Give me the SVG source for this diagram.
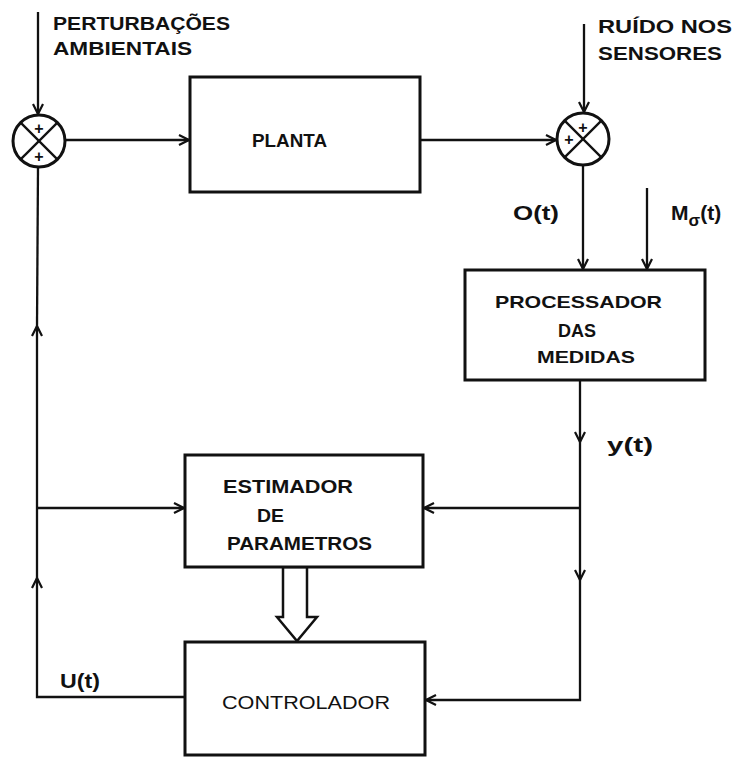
<svg xmlns="http://www.w3.org/2000/svg" width="738" height="758" viewBox="0 0 738 758">
<defs>
<style>
.box{fill:#fff;stroke:#111;stroke-width:3}
.ln{fill:none;stroke:#111;stroke-width:2.3}
.sum{fill:#fff;stroke:#111;stroke-width:3}
.t{font-family:"Liberation Sans",Arial,sans-serif;font-weight:bold;fill:#111}
.n{font-family:"Liberation Sans",Arial,sans-serif;font-weight:normal;fill:#111}
.sg{font-family:"Liberation Sans",Arial,sans-serif;font-weight:bold;fill:#111;font-size:16px;text-anchor:middle}
</style>
<marker id="a" viewBox="0 0 12 12" refX="11" refY="6" markerWidth="12" markerHeight="12" markerUnits="userSpaceOnUse" orient="auto">
<path d="M1,1 L11,6 L1,11" fill="none" stroke="#111" stroke-width="2.2"/>
</marker>
</defs>
<rect width="738" height="758" fill="#fff"/>

<g id="connectors">
<line class="ln" x1="38" y1="12" x2="38" y2="114" marker-end="url(#a)"/>
<line class="ln" x1="65" y1="140" x2="189" y2="140" marker-end="url(#a)"/>
<line class="ln" x1="420" y1="140" x2="556" y2="140" marker-end="url(#a)"/>
<line class="ln" x1="584" y1="24" x2="584" y2="112" marker-end="url(#a)"/>
<line class="ln" x1="583" y1="165" x2="583" y2="269" marker-end="url(#a)"/>
<line class="ln" x1="647" y1="188" x2="647" y2="269" marker-end="url(#a)"/>
<line class="ln" x1="580" y1="380" x2="580" y2="442" marker-end="url(#a)"/>
<line class="ln" x1="580" y1="442" x2="580" y2="580" marker-end="url(#a)"/>
<polyline class="ln" points="580,580 580,700 426,700" marker-end="url(#a)"/>
<line class="ln" x1="580" y1="508" x2="424" y2="508" marker-end="url(#a)"/>
<polyline class="ln" points="185,697 37,697 37,578" marker-end="url(#a)"/>
<line class="ln" x1="37" y1="578" x2="37" y2="326" marker-end="url(#a)"/>
<line class="ln" x1="37" y1="326" x2="38" y2="167"/>
<line class="ln" x1="37" y1="508" x2="184" y2="508" marker-end="url(#a)"/>
<polygon points="283,567 283,617 277,617 297,641 317,617 307,617 307,567" fill="#fff" stroke="#111" stroke-width="2.5"/>
</g>

<g id="sum1">
<circle class="sum" cx="39" cy="141" r="26"/>
<line class="ln" x1="20.6" y1="122.6" x2="57.4" y2="159.4"/>
<line class="ln" x1="57.4" y1="122.6" x2="20.6" y2="159.4"/>
<text class="sg" x="39" y="134">+</text>
<text class="sg" x="39" y="162">+</text>
</g>

<g id="sum2">
<circle class="sum" cx="583" cy="139" r="26"/>
<line class="ln" x1="564.6" y1="120.6" x2="601.4" y2="157.4"/>
<line class="ln" x1="601.4" y1="120.6" x2="564.6" y2="157.4"/>
<text class="sg" x="583" y="133">+</text>
<text class="sg" x="569" y="145">+</text>
</g>

<g id="planta">
<rect class="box" x="190" y="77" width="230" height="115"/>
<text class="t" x="252" y="147" font-size="18" textLength="75" lengthAdjust="spacingAndGlyphs">PLANTA</text>
</g>

<g id="processador">
<rect class="box" x="465" y="270" width="240" height="110"/>
<text class="t" x="495" y="308" font-size="17" textLength="167" lengthAdjust="spacingAndGlyphs">PROCESSADOR</text>
<text class="t" x="558" y="337" font-size="18" textLength="38" lengthAdjust="spacingAndGlyphs">DAS</text>
<text class="t" x="537" y="363" font-size="17" textLength="98" lengthAdjust="spacingAndGlyphs">MEDIDAS</text>
</g>

<g id="estimador">
<rect class="box" x="185" y="455" width="238" height="112"/>
<text class="t" x="223" y="493" font-size="18" textLength="130" lengthAdjust="spacingAndGlyphs">ESTIMADOR</text>
<text class="t" x="257" y="522" font-size="18" textLength="27" lengthAdjust="spacingAndGlyphs">DE</text>
<text class="t" x="227" y="550" font-size="18" textLength="145" lengthAdjust="spacingAndGlyphs">PARAMETROS</text>
</g>

<g id="controlador">
<rect class="box" x="185" y="642" width="240" height="113"/>
<text class="n" x="222" y="709" font-size="18" textLength="168" lengthAdjust="spacingAndGlyphs">CONTROLADOR</text>
</g>

<g id="labels">
<text class="t" x="53" y="30" font-size="18" textLength="177" lengthAdjust="spacingAndGlyphs">PERTURBAÇÕES</text>
<text class="t" x="53" y="55" font-size="18" textLength="139" lengthAdjust="spacingAndGlyphs">AMBIENTAIS</text>
<text class="t" x="598" y="33" font-size="18" textLength="134" lengthAdjust="spacingAndGlyphs">RUÍDO NOS</text>
<text class="t" x="598" y="60" font-size="18" textLength="124" lengthAdjust="spacingAndGlyphs">SENSORES</text>
<text class="t" x="513" y="220" font-size="20" textLength="46" lengthAdjust="spacingAndGlyphs">O(t)</text>
<text class="t" x="671" y="220" font-size="21">M<tspan font-size="17" dy="6">σ</tspan><tspan dy="-6">(t)</tspan></text>
<text class="t" x="607" y="452" font-size="20" textLength="46" lengthAdjust="spacingAndGlyphs">y(t)</text>
<text class="t" x="60" y="688" font-size="20" textLength="40" lengthAdjust="spacingAndGlyphs">U(t)</text>
</g>
</svg>
